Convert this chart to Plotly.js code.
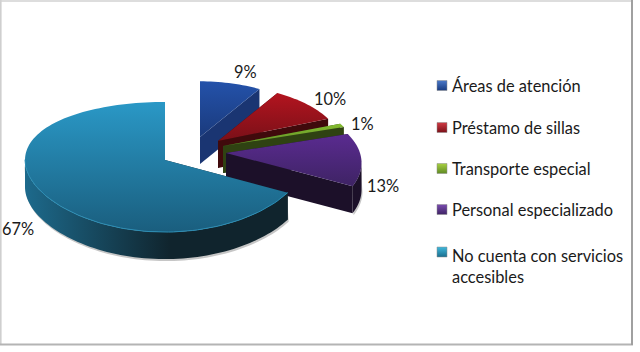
<!DOCTYPE html>
<html><head><meta charset="utf-8">
<script src="https://cdn.plot.ly/plotly-3.0.1.min.js"></script>
<style>html,body{margin:0;padding:0;background:#fff}#c{width:640px;height:352px}</style>
</head><body><div id="c"></div>
<script>
// Data
const categories = ['Áreas de atención','Préstamo de sillas','Transporte especial','Personal especializado','No cuenta con servicios<br>accesibles'];
const values = [9,10,1,13,67];
// Styles
const topLight = ['#2452aa','#b3141f','#84bd30','#5a2b90','#2a98c6'];
const topDark  = ['#1a3a7c','#7a1018','#5f8a24','#3e2364','#1a5e7e'];
const wallLight= ['#1a3572','#400a0c','#2f4212','#1c1029','#1d6a8c'];
const wallDark = ['#17305f','#300709','#263610','#190f24','#10242d'];
const swatchTop= ['#4a78c8','#d03a44','#a8d040','#7a4cb0','#40b8dc'];
const swatchBot= ['#173a80','#7a1018','#5f8a24','#3e2364','#1a6e8e'];
// Layout geometry (pixel frame of the axes)
const apexX=[200,218,223,226,165], apexY=[137,141,146,153,160];
const radX=[125,125,133,134,140], radY=[64,64,64,64,64.3];
const perspX=[0.15,0.15,0.15,0.15,0], perspY=[0.15,0.15,0.15,0.15,0.108];
const depth=27;
const labelX=[245,330,362,383,18], labelY=[71.5,98.5,123.5,185.5,228.5];
const legendX=437, legendTextX=450, legendY=[85.5,127.5,168.5,209.5,252];

const total=values.reduce((a,b)=>a+b,0);
const traces=[];
function rimPoint(i,deg,dy){
  const t=deg*Math.PI/180,u=Math.sin(t),v=Math.cos(t);
  return [apexX[i]+radX[i]*u/(1+perspX[i]*v), apexY[i]-radY[i]*v/(1+perspY[i]*v)+dy];
}
function flat(c){return {type:'vertical',start:0,stop:352,colorscale:[[0,c],[1,c]]};}
function poly(xs,ys,grad,name){
  traces.push({type:'scatter',mode:'lines',x:xs.concat(xs[0]),y:ys.concat(ys[0]),fill:'toself',
    line:{width:0,simplify:false},fillcolor:grad.colorscale[0][1],fillgradient:grad,hoverinfo:'skip',showlegend:false,name:name});
}
let acc=0;
values.forEach((val,i)=>{
  const a0=acc/total*360, a1=(acc+val)/total*360; acc+=val;
  const rim=[]; const n=Math.max(6,Math.ceil((a1-a0)/2));
  for(let k=0;k<=n;k++){rim.push(a0+(a1-a0)*k/n);}
  const top=rim.map(d=>rimPoint(i,d,0)), bot=rim.map(d=>rimPoint(i,d,depth));
  const ax=apexX[i], ay=apexY[i];
  // front-facing run of the rim: x decreases as the angle grows
  const front=[];
  for(let k=0;k<n;k++){ if(top[k+1][0]<top[k][0]){ if(!front.length) front.push(k); front.push(k+1);} }
  const ft=front.map(k=>top[k]), fb=front.map(k=>bot[k]);
  // soft edge under the outer wall
  if(front.length){
    poly(ft.map(p=>p[0]-1).concat(fb.map(p=>p[0]+1).reverse()),
         ft.map(p=>p[1]).concat(fb.map(p=>p[1]+2).reverse()),flat('#c6c6c6'),'');
  }
  // cut walls
  poly([ax,top[0][0],bot[0][0],ax],[ay,top[0][1],bot[0][1],ay+depth],flat(wallDark[i]),'');
  poly([ax,top[n][0],bot[n][0],ax],[ay,top[n][1],bot[n][1],ay+depth],flat(wallLight[i]),'');
  // outer wall
  if(front.length){
    const grad=i===4
      ?{type:'horizontal',start:25,stop:290,colorscale:[[0,wallLight[i]],[0.55,wallDark[i]],[1,wallDark[i]]]}
      :flat(wallLight[i]);
    poly(ft.map(p=>p[0]).concat(fb.map(p=>p[0]).reverse()),ft.map(p=>p[1]).concat(fb.map(p=>p[1]).reverse()),grad,'');
  }
  // top face
  const xsT=[ax].concat(top.map(p=>p[0])), ysT=[ay].concat(top.map(p=>p[1]));
  const yMin=Math.min(...ysT), yMax=Math.max(...ysT);
  poly(xsT,ysT,{type:'vertical',start:yMin,stop:yMax,colorscale:[[0,topLight[i]],[1,topDark[i]]]},categories[i]);
  // light rim on the big slice
  if(i===4){
    traces.push({type:'scatter',mode:'lines',x:ft.map(p=>p[0]),y:ft.map(p=>p[1]),hoverinfo:'skip',showlegend:false,
      line:{color:'#2b8db4',width:1}});
  }
});
// Legend swatches
categories.forEach((c,i)=>{
  traces.push({type:'scatter',mode:'markers',x:[legendX+5],y:[legendY[i]],hoverinfo:'skip',showlegend:false,
    marker:{symbol:'square',size:10,color:swatchTop[i],gradient:{type:'vertical',color:swatchBot[i]},line:{color:'#8c8c8c',width:0.5}}});
});
const annotations=[];
const font={family:'Lato, "Open Sans", sans-serif',size:16.4,color:'#1a1a1a'};
categories.forEach((c,i)=>{
  annotations.push({xref:'x',yref:'y',x:legendTextX,y:legendY[i],xanchor:'left',yanchor:i===4?'top':'middle',
    yshift:i===4?8:0,text:c,showarrow:false,align:'left',font:font});
  annotations.push({xref:'x',yref:'y',x:labelX[i],y:labelY[i],xanchor:'center',yanchor:'middle',
    text:values[i]+'%',showarrow:false,font:font});
});
function edge(x0,y0,x1,y1,color,width){
  return {type:'line',xref:'x',yref:'y',x0,y0,x1,y1,line:{color,width},layer:'below'};
}
const layout={width:640,height:352,margin:{l:0,r:0,t:0,b:0},paper_bgcolor:'#fff',plot_bgcolor:'#fff',showlegend:false,
  xaxis:{range:[0,640],visible:false,fixedrange:true},
  yaxis:{range:[352,0],visible:false,fixedrange:true},
  shapes:[edge(0.8,0,0.8,345,'#cfcfcf',1.6),edge(0,1,632,1,'#d2d2d2',1.6),
          edge(0,344.5,633,344.5,'#b4b4b4',2),edge(632,0,632,345,'#a0a0a0',2)],
  annotations:annotations};
Plotly.newPlot('c',traces,layout,{displayModeBar:false,staticPlot:true});
</script></body></html>
